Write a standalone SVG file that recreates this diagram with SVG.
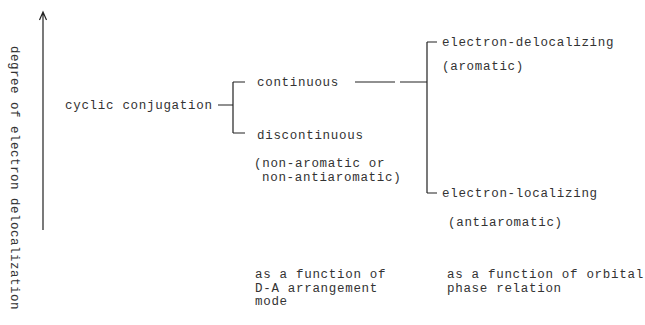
<svg xmlns="http://www.w3.org/2000/svg" width="645" height="325" viewBox="0 0 645 325">
<style>
text{font-family:"Liberation Mono","DejaVu Sans Mono",monospace;font-size:12.5px;letter-spacing:0.7px;fill:#333}
.ln{stroke:#222;stroke-width:1.2;fill:none}
</style>
<rect width="645" height="325" fill="#fff"/>
<g id="axis">
<path class="ln" d="M43 230V12M39.5 20L43 12L46.5 20"/>
<text transform="translate(11,46) rotate(90)" style="letter-spacing:0.5px">degree of electron delocalization</text>
</g>
<g id="connectors">
<path class="ln" d="M218 105H233M233 82V133M233 82H245M233 133H245"/>
<path class="ln" d="M355 82H395M400 82H427M427 42V193M427 42H437M427 193H437"/>
</g>
<g id="n-cyclic"><text x="65" y="109">cyclic conjugation</text></g>
<g id="n-continuous"><text x="257" y="86">continuous</text></g>
<g id="n-discontinuous"><text x="257" y="139">discontinuous</text>
<text x="254" y="167">(non-aromatic or</text>
<text x="262" y="181">non-antiaromatic)</text></g>
<g id="n-deloc"><text x="442" y="46">electron-delocalizing</text>
<text x="442" y="70">(aromatic)</text></g>
<g id="n-loc"><text x="442" y="197">electron-localizing</text>
<text x="448" y="226">(antiaromatic)</text></g>
<g id="n-note1"><text x="255" y="278">as a function of</text>
<text x="255" y="291.5">D-A arrangement</text>
<text x="255" y="305">mode</text></g>
<g id="n-note2"><text x="447" y="278">as a function of orbital</text>
<text x="447" y="291.5">phase relation</text></g>
</svg>
